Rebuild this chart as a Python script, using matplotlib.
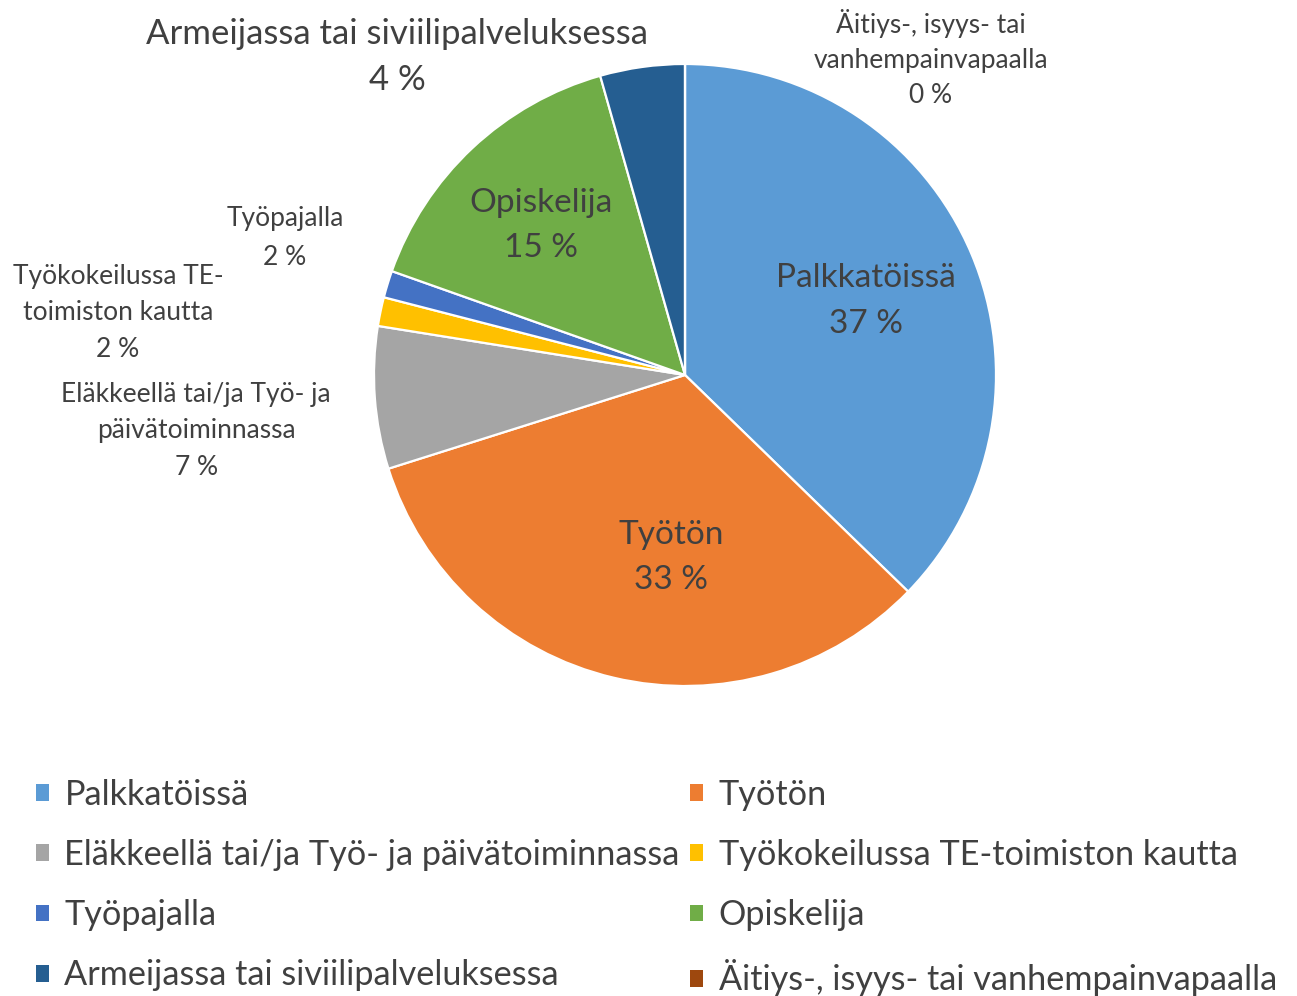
import matplotlib.pyplot as plt

plt.rcParams['font.family'] = ['Lato', 'DejaVu Sans']

# data
categories = ['Palkkatöissä', 'Työtön', 'Eläkkeellä tai/ja Työ- ja päivätoiminnassa',
              'Työkokeilussa TE-toimiston kautta', 'Työpajalla', 'Opiskelija',
              'Armeijassa tai siviilipalveluksessa', 'Äitiys-, isyys- tai vanhempainvapaalla']
shares = [37.3, 32.9, 7.4, 1.5, 1.4, 15.2, 4.4, 0.0]
pct_labels = ['37 %', '33 %', '7 %', '2 %', '2 %', '15 %', '4 %', '0 %']
colors = ['#5B9BD5', '#ED7D31', '#A5A5A5', '#FFC000', '#4472C4', '#70AD47', '#255E91', '#9E480E']

# label text (line-broken as in the chart) and positions in pie-radius units
label_names = ['Palkkatöissä', 'Työtön', 'Eläkkeellä tai/ja Työ- ja\npäivätoiminnassa',
               'Työkokeilussa TE-\ntoimiston kautta', 'Työpajalla', 'Opiskelija',
               'Armeijassa tai siviilipalveluksessa', 'Äitiys-, isyys- tai\nvanhempainvapaalla']
label_pos = [(0.582, 0.238), (-0.045, -0.587), (-1.572, -0.180), (-1.823, 0.200),
             (-1.286, 0.440), (-0.463, 0.481), (-0.926, 1.022), (0.791, 1.019)]
label_size = [24, 24, 19, 19, 19, 24, 25, 19]
label_space = [1.64, 1.64, 1.58, 1.58, 1.7, 1.64, 1.54, 1.5]

fig = plt.figure(figsize=(12.97, 9.96), dpi=100)
ax = fig.add_axes([374 / 1297, 310 / 996, 622 / 1297, 622 / 996])

wedges, _ = ax.pie(shares, colors=colors, startangle=90, counterclock=False,
                   radius=1, wedgeprops=dict(edgecolor='white', linewidth=1.6))
ax.set_xlim(-1, 1)
ax.set_ylim(-1, 1)
ax.set_aspect('equal')
ax.axis('off')

for i in range(len(categories)):
    x, y = label_pos[i]
    ax.text(x, y, label_names[i] + '\n' + pct_labels[i], ha='center', va='center',
            fontsize=label_size[i], color='#404040', linespacing=label_space[i])

# legend, row-wise order
order = [0, 2, 4, 6, 1, 3, 5, 7]
leg = fig.legend([wedges[i] for i in order], [categories[i] for i in order],
                 ncol=2, loc='upper left', bbox_to_anchor=(36 / 1297, 1 - 779 / 996),
                 frameon=False, fontsize=24.7, handlelength=0.38, handleheight=0.38,
                 handletextpad=0.45, columnspacing=0.3, labelspacing=0.82,
                 borderpad=0, borderaxespad=0, labelcolor='#404040')
for h in leg.legend_handles:
    h.set_edgecolor('none')

plt.savefig('out.png', dpi=100)
